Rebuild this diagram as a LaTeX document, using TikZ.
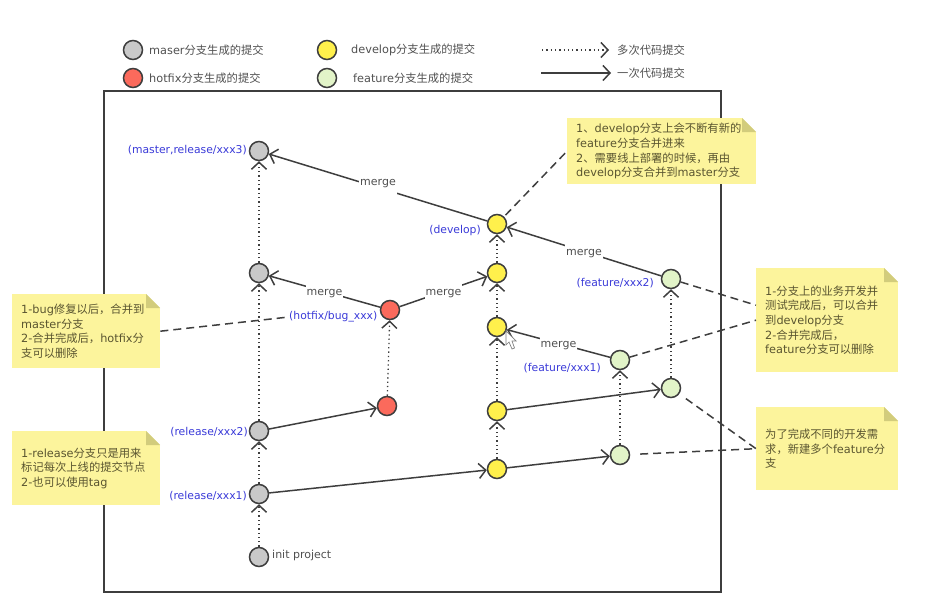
\documentclass[tikz,border=0pt]{standalone}
\usepackage{fontspec}
\setmainfont{DejaVu Sans}
\newfontfamily\cjkf{Noto Sans CJK SC}
\newcommand{\zh}[1]{{\cjkf #1}}
\usetikzlibrary{arrows.meta,calc}
\definecolor{ink}{HTML}{3E3E3E}
\definecolor{txt}{HTML}{505050}
\definecolor{bluet}{HTML}{3A3AD8}
\definecolor{notef}{HTML}{FCF49C}
\definecolor{foldc}{HTML}{D2CC7C}
\definecolor{notet}{HTML}{5A5530}
\definecolor{cgray}{HTML}{C9C9C9}
\definecolor{cyel}{HTML}{FFF04C}
\definecolor{cred}{HTML}{FB6A5C}
\definecolor{cgrn}{HTML}{E2F4C8}
\tikzset{
  x=1pt,y=-1pt,
  commit/.style={circle,draw=ink,line width=1.5pt,minimum size=19pt,inner sep=0pt},
  mgray/.style={commit,fill=cgray},
  dyel/.style={commit,fill=cyel},
  hred/.style={commit,fill=cred},
  fgrn/.style={commit,fill=cgrn},
  bar/.style={-{Straight Barb[length=7pt,width=15pt,line width=1.5pt]}},
  solidline/.style={bar,draw=ink,line width=1.5pt},
  dottedline/.style={bar,draw=ink,line width=1.3pt,dash pattern=on 1.3pt off 3pt},
  dashline/.style={draw=ink,line width=1.5pt,dash pattern=on 8pt off 5pt},
  lab/.style={text=txt,font=\fontsize{11.3}{14}\selectfont,inner sep=0pt,anchor=west},
  tag/.style={text=bluet,font=\fontsize{10.8}{14}\selectfont,inner sep=0pt,yshift=-1pt},
  mergelab/.style={fill=white,text=txt,font=\fontsize{11}{14}\selectfont,inner xsep=1pt,inner ysep=0pt,minimum height=20pt,yshift=-2.5pt},
  notebox/.style={anchor=north west,fill=notef,text=notet,align=left,inner xsep=9pt,inner ysep=0pt,
    font=\fontsize{11.3}{14.7}\selectfont,
    path picture={
      \fill[white] (path picture bounding box.north east) -- ++(-14pt,0pt) -- ++(14pt,-14pt) -- cycle;
      \fill[foldc] ($(path picture bounding box.north east)+(-14pt,0pt)$) -- ++(14pt,-14pt) -- ++(-14pt,0pt) -- cycle;
    }},
}
\begin{document}
\begin{tikzpicture}
\useasboundingbox (0,0) rectangle (951,601);
% frame
\draw[draw=ink,line width=1.5pt] (104,91) rectangle (721,592);
% legend
\node[mgray] (l1) at (133,50) {};
\node[hred] (l2) at (133,78) {};
\node[dyel] (l3) at (327,50) {};
\node[fgrn] (l4) at (327,78) {};
\node[lab] (t1) at (149,50) {maser\zh{分支生成的提交}};
\node[lab] (t2) at (149,78) {hotfix\zh{分支生成的提交}};
\node[lab] (t3) at (351,50) {develop\zh{分支生成的提交}};
\node[lab] (t4) at (353,78) {feature\zh{分支生成的提交}};
\node[lab] (t5) at (617,50) {\zh{多次代码提交}};
\node[lab] (t6) at (617,73) {\zh{一次代码提交}};
\coordinate (a1) at (542,50); \coordinate (a2) at (609,50);
\coordinate (a3) at (541,73); \coordinate (a4) at (611,73);
\draw[dottedline] (a1) -- (a2);
\draw[solidline] (a3) -- (a4);
% commits
\node[mgray] (m3) at (259,151) {};
\node[mgray] (m2) at (259,273) {};
\node[mgray] (r2) at (259,431) {};
\node[mgray] (r1) at (259,494) {};
\node[mgray] (i0) at (259,557) {};
\node[hred] (h2) at (390,310) {};
\node[hred] (h1) at (387,406) {};
\node[dyel] (d1) at (497,224) {};
\node[dyel] (d2) at (497,273) {};
\node[dyel] (d3) at (497,327) {};
\node[dyel] (d4) at (497,411) {};
\node[dyel] (d5) at (497,469) {};
\node[fgrn] (f2) at (671,279) {};
\node[fgrn] (f2l) at (671,388) {};
\node[fgrn] (f1) at (620,360) {};
\node[fgrn] (f1l) at (620,455) {};
% labels
\node[tag,anchor=east] (g1) at (247,149) {(master,release/xxx3)};
\node[tag,anchor=east] (g2) at (481,230) {(develop)};
\node[tag,anchor=east] (g3) at (654,282) {(feature/xxx2)};
\node[tag,anchor=west] (g4) at (289,316) {(hotfix/bug\_xxx)};
\node[tag,anchor=east] (g5) at (601,367) {(feature/xxx1)};
\node[tag,anchor=east] (g6) at (248,431) {(release/xxx2)};
\node[tag,anchor=east] (g7) at (247,495) {(release/xxx1)};
\node[lab,font=\fontsize{11}{14}\selectfont,yshift=-1pt] (g8) at (272,554) {init project};
% dotted
\draw[dottedline] (i0) -- (r1);
\draw[dottedline] (r1) -- (r2);
\draw[dottedline] (r2) -- (m2);
\draw[dottedline] (m2) -- (m3);
\draw[dottedline] (h1) -- (h2);
\draw[dottedline] (d5) -- (d4);
\draw[dottedline] (d4) -- (d3);
\draw[dottedline] (d3) -- (d2);
\draw[dottedline] (d2) -- (d1);
\draw[dottedline] (f1l) -- (f1);
\draw[dottedline] (f2l) -- (f2);
% solid
\draw[solidline] (d1) -- node[mergelab,yshift=6pt,minimum height=25pt] (e1) {merge} (m3);
\draw[solidline] (f2) -- node[mergelab] (e2) {merge} (d1);
\draw[solidline] (h2) -- node[mergelab] (e3) {merge} (m2);
\draw[solidline] (h2) -- node[mergelab] (e4) {merge} (d2);
\draw[solidline] (f1) -- node[mergelab] (e5) {merge} (d3);
\draw[solidline] (r2) -- (h1);
\draw[solidline] (r1) -- (d5);
\draw[solidline] (d5) -- (f1l);
\draw[solidline] (d4) -- (f2l);
% notes
\node[notebox,minimum width=189pt,minimum height=66pt,text width=171pt] (n1) at (567,118)
 {1\zh{、}develop\zh{分支上会不断有新的}\\feature\zh{分支合并进来}\\2\zh{、需要线上部署的时候，再由}\\develop\zh{分支合并到}master\zh{分支}};
\node[notebox,minimum width=148pt,minimum height=74pt,text width=130pt] (n2) at (12,294)
 {1-bug\zh{修复以后，合并到}\\master\zh{分支}\\2-\zh{合并完成后，}hotfix\zh{分}\\\zh{支可以删除}};
\node[notebox,minimum width=148pt,minimum height=74pt,text width=130pt] (n3) at (12,431)
 {1-release\zh{分支只是用来}\\\zh{标记每次上线的提交节点}\\2-\zh{也可以使用}tag};
\node[notebox,minimum width=142pt,minimum height=104pt,text width=124pt] (n4) at (756,268)
 {1-\zh{分支上的业务开发并}\\\zh{测试完成后，可以合并}\\\zh{到}develop\zh{分支}\\2-\zh{合并完成后，}\\feature\zh{分支可以删除}};
\node[notebox,minimum width=142pt,minimum height=83pt,text width=124pt] (n5) at (756,407)
 {\zh{为了完成不同的开发需}\\\zh{求，新建多个}feature\zh{分}\\\zh{支}};
% dashed
\draw[dashline,shorten <=2pt] (d1) -- (n1.west);
\draw[dashline] (n2.east) -- (g4.west);
\draw[dashline] (f2) -- ([yshift=15pt]n4.west);
\draw[dashline] (f1) -- (n4.west);
\draw[dashline,shorten <=8pt] (f2l) -- (n5.west);
\draw[dashline,shorten <=10pt] (f1l) -- (n5.west);
% pointer
\draw[fill=white,draw=gray,line width=.7pt] (506,331) -- (506,345) -- (509,342) -- (512,349) -- (514.5,348) -- (512,341) -- (516,341) -- cycle;
\end{tikzpicture}
\end{document}
